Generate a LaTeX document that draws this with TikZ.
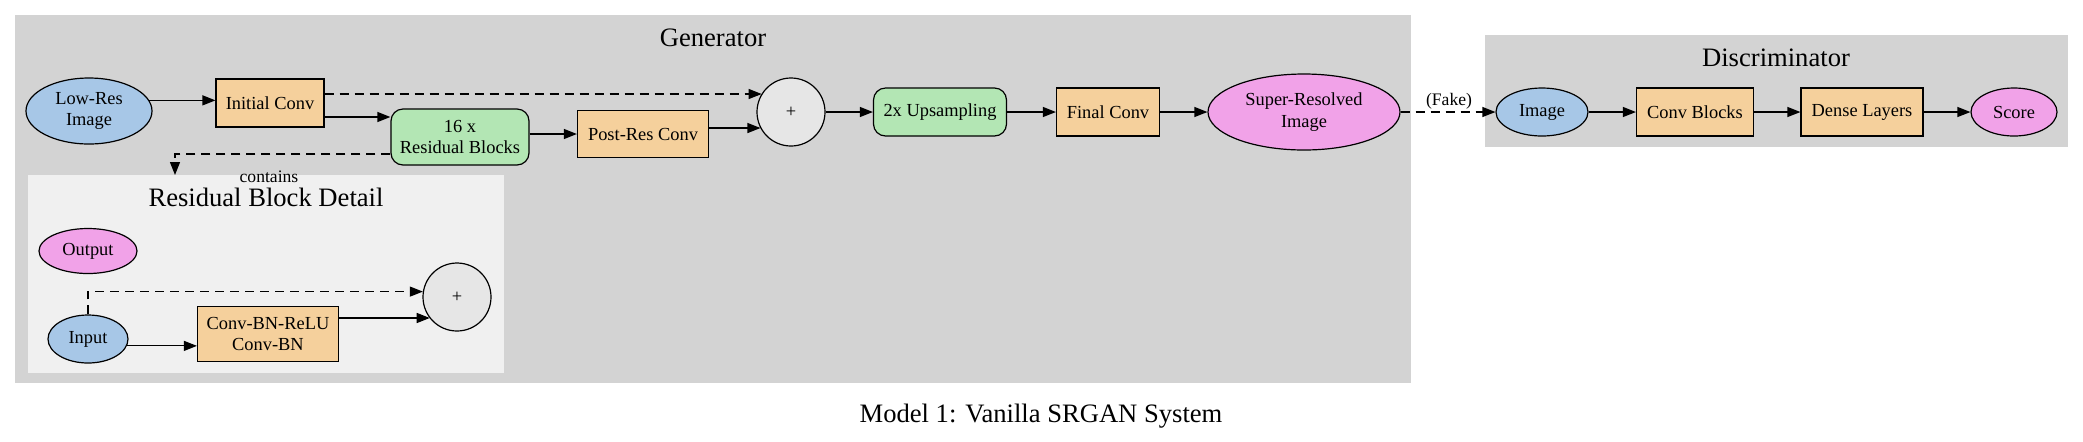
\documentclass[tikz,border=0pt]{standalone}
\usepackage{fontspec}
\setmainfont{Liberation Serif}
\usetikzlibrary{shapes.geometric,arrows.meta}
\definecolor{cblue}{HTML}{A7C7E7}
\definecolor{corange}{HTML}{F5D09C}
\definecolor{cgreen}{HTML}{B3E6B4}
\definecolor{cpink}{HTML}{F1A2E8}
\definecolor{cplus}{HTML}{E6E6E6}
\definecolor{cgen}{HTML}{D3D3D3}
\definecolor{crbd}{HTML}{F0F0F0}
\newcommand\mynodefont{\fontsize{9.2}{10.8}\selectfont}
\newcommand\mytitlefont{\fontsize{13.3}{15}\selectfont}
\newcommand\mylabelfont{\fontsize{8.8}{10}\selectfont}
\tikzset{
 base/.style={draw=black, line width=0.6pt, inner sep=0pt, align=center, font=\mynodefont},
 ell/.style={base, ellipse},
 box/.style={base, rectangle, fill=corange},
 rbox/.style={base, rectangle, rounded corners=6pt, fill=cgreen},
 plusnode/.style={base, circle, fill=cplus, minimum size=34pt},
 cluster/.style={rectangle, draw=none, inner sep=0pt},
 title/.style={font=\mytitlefont, inner sep=0pt},
 edge/.style={line width=0.6pt, -{Triangle[length=6.5pt,width=5pt]}},
 dashededge/.style={edge, dash pattern=on 4.5pt off 3pt},
 elabel/.style={font=\mylabelfont, inner sep=0pt},
}
\begin{document}
\begin{tikzpicture}[x=0.5pt,y=-0.5pt]
\useasboundingbox (0,0) rectangle (2083,441);
% clusters
\node[cluster, fill=cgen, minimum width=698pt, minimum height=184pt] (gen) at (713,199) {};
\node[cluster, fill=cgen, minimum width=291.5pt, minimum height=56pt] (disc) at (1776.5,91) {};
\node[cluster, fill=crbd, minimum width=238pt, minimum height=99pt] (rbd) at (266,274) {};
\node[title] (gentitle) at (713,38) {Generator};
\node[title] (disctitle) at (1776,58) {Discriminator};
\node[title] (rbdtitle) at (266,197) {Residual Block Detail};
\node[title] (caption) at (1041,416) {Model 1: Vanilla SRGAN System};
% generator nodes
\node[ell, fill=cblue, minimum width=63pt, minimum height=33pt] (lowres) at (89,111) {Low-Res\\Image};
\node[box, minimum width=54pt, minimum height=24pt] (initconv) at (270,103) {Initial Conv};
\node[rbox, minimum width=69pt, minimum height=28pt] (res16) at (460,137) {16 x\\Residual Blocks};
\node[box, minimum width=65.5pt, minimum height=23.5pt] (postres) at (643,134) {Post-Res Conv};
\node[plusnode] (plus1) at (791,112) {+};
\node[rbox, minimum width=66.5pt, minimum height=24pt] (up2x) at (940,112) {2x Upsampling};
\node[box, minimum width=51.5pt, minimum height=24pt] (finalconv) at (1108,112) {Final Conv};
\node[ell, fill=cpink, minimum width=96pt, minimum height=38pt] (sr) at (1304,112) {Super-Resolved\\Image};
% discriminator nodes
\node[ell, fill=cblue, minimum width=46pt, minimum height=24pt] (dimg) at (1542,112) {Image};
\node[box, minimum width=58.5pt, minimum height=24pt] (convb) at (1695,112) {Conv Blocks};
\node[box, minimum width=61pt, minimum height=24pt] (dense) at (1862,112) {Dense Layers};
\node[ell, fill=cpink, minimum width=43pt, minimum height=24pt] (score) at (2014,112) {Score};
% residual block detail nodes
\node[ell, fill=cpink, minimum width=49pt, minimum height=22.5pt] (output) at (88,251) {Output};
\node[ell, fill=cblue, minimum width=40pt, minimum height=24pt] (input) at (88,339) {Input};
\node[box, minimum width=70.5pt, minimum height=27.5pt] (rconv) at (268,334) {Conv-BN-ReLU\\Conv-BN};
\node[plusnode] (plus2) at (457,297) {+};
% generator edges
\draw[edge] (lowres.10) -- (lowres.10 -| initconv.west);
\draw[dashededge] ([yshift=4.5pt]initconv.east) -- ([yshift=4.5pt]initconv.east -| plus1.148);
\draw[edge] ([yshift=-7pt]initconv.east) -- ([yshift=-7pt]initconv.east -| res16.west);
\draw[edge] (res16.east |- postres.west) -- (postres.west);
\draw[edge] ([yshift=3pt]postres.east) -- ([yshift=3pt]postres.east -| plus1.208);
\draw[edge] (plus1.east) -- (up2x.west);
\draw[edge] (up2x.east) -- (finalconv.west);
\draw[edge] (finalconv.east) -- (sr.west);
\coordinate (ctip) at (175,175);
\draw[dashededge] ([yshift=-8.5pt]res16.west) -| (ctip);
\node[elabel] (contains) at (269,177) {contains};
% link to discriminator
\draw[dashededge] (sr.east) -- (dimg.west);
\node[elabel] (fake) at (1449,101) {(Fake)};
% discriminator edges
\draw[edge] (dimg.east) -- (convb.west);
\draw[edge] (convb.east) -- (dense.west);
\draw[edge] (dense.east) -- (score.west);
% residual block edges
\draw[edge] (input.-10) -- (input.-10 -| rconv.west);
\draw[edge] ([yshift=8pt]rconv.east) -- ([yshift=8pt]rconv.east -| plus2.218);
\draw[dashededge] (input.north) |- (plus2.171);
\end{tikzpicture}
\end{document}
